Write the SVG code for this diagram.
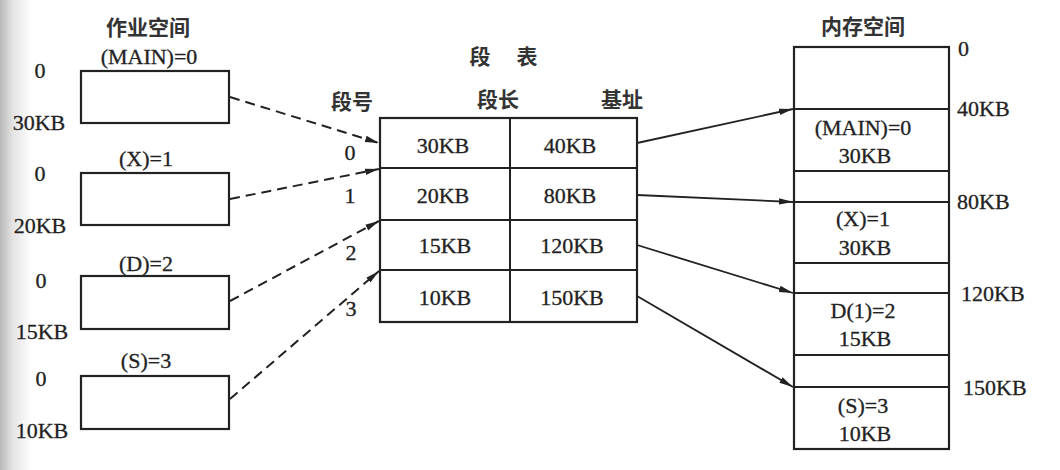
<svg xmlns="http://www.w3.org/2000/svg" width="1060" height="470" viewBox="0 0 1060 470">
<defs>
<linearGradient id="edge" x1="0" y1="0" x2="1" y2="0">
<stop offset="0" stop-color="#b8b8b8"/>
<stop offset="0.4" stop-color="#e4e4e4"/>
<stop offset="1" stop-color="#ffffff"/>
</linearGradient>
<marker id="ah" viewBox="0 0 14 8" refX="14" refY="4" markerWidth="14" markerHeight="8" markerUnits="userSpaceOnUse" orient="auto">
<path d="M0,0.8 L14,4 L0,7.2 Z" fill="#222"/>
</marker>
<style>
text{font-family:"Liberation Serif","Times New Roman","Noto Sans CJK SC",serif;font-size:22px;fill:#222;stroke:#222;stroke-width:0.3;}
.cjk{font-family:"Noto Sans CJK SC","Noto Sans CJK TC",sans-serif;font-size:21px;font-weight:bold;fill:#333;stroke:none;}
.c{text-anchor:middle;}
.box{fill:#fff;stroke:#222;stroke-width:2.2;}
.ln{stroke:#222;stroke-width:2;fill:none;}
.dash{stroke:#222;stroke-width:2;fill:none;stroke-dasharray:10 6;marker-end:url(#ah);}
.sol{stroke:#222;stroke-width:1.8;fill:none;marker-end:url(#ah);}
</style>
</defs>
<rect x="0" y="0" width="1060" height="470" fill="#fff"/>
<rect x="0" y="0" width="32" height="470" fill="url(#edge)"/>

<g id="titles">
<text class="cjk c" x="148" y="35">作业空间</text>
<text class="cjk c" x="480" y="64">段</text>
<text class="cjk c" x="527" y="64">表</text>
<text class="cjk c" x="352" y="109">段号</text>
<text class="cjk c" x="498" y="107">段长</text>
<text class="cjk c" x="622" y="107">基址</text>
<text class="cjk c" x="863" y="34">内存空间</text>
</g>

<g id="seg-main">
<text class="c" x="149" y="64">(MAIN)=0</text>
<rect class="box" x="81" y="71" width="148" height="52"/>
<text class="c" x="40" y="78">0</text>
<text class="c" x="39" y="130">30KB</text>
</g>
<g id="seg-x">
<text class="c" x="146" y="166">(X)=1</text>
<rect class="box" x="81" y="173" width="148" height="52"/>
<text class="c" x="40" y="181">0</text>
<text class="c" x="40" y="233">20KB</text>
</g>
<g id="seg-d">
<text class="c" x="146" y="271">(D)=2</text>
<rect class="box" x="81" y="276" width="148" height="53"/>
<text class="c" x="41" y="288">0</text>
<text class="c" x="42" y="339">15KB</text>
</g>
<g id="seg-s">
<text class="c" x="146" y="368">(S)=3</text>
<rect class="box" x="81" y="376" width="148" height="53"/>
<text class="c" x="41" y="386">0</text>
<text class="c" x="42" y="438">10KB</text>
</g>

<g id="segment-table">
<rect class="box" x="380" y="118" width="257" height="204"/>
<line class="ln" x1="380" y1="168" x2="637" y2="168"/>
<line class="ln" x1="380" y1="220" x2="637" y2="220"/>
<line class="ln" x1="380" y1="270" x2="637" y2="270"/>
<line class="ln" x1="510" y1="118" x2="510" y2="322"/>
<text class="c" x="443" y="153">30KB</text>
<text class="c" x="570" y="153">40KB</text>
<text class="c" x="443" y="203">20KB</text>
<text class="c" x="570" y="203">80KB</text>
<text class="c" x="445" y="253">15KB</text>
<text class="c" x="572" y="253">120KB</text>
<text class="c" x="445" y="305">10KB</text>
<text class="c" x="572" y="305">150KB</text>
<text class="c" x="350" y="160">0</text>
<text class="c" x="350" y="203">1</text>
<text class="c" x="351" y="260">2</text>
<text class="c" x="351" y="316">3</text>
</g>

<g id="memory">
<rect class="box" x="794" y="47" width="155" height="402"/>
<line class="ln" x1="794" y1="109" x2="949" y2="109"/>
<line class="ln" x1="794" y1="171" x2="949" y2="171"/>
<line class="ln" x1="794" y1="202" x2="949" y2="202"/>
<line class="ln" x1="794" y1="263" x2="949" y2="263"/>
<line class="ln" x1="794" y1="293" x2="949" y2="293"/>
<line class="ln" x1="794" y1="355" x2="949" y2="355"/>
<line class="ln" x1="794" y1="387" x2="949" y2="387"/>
<text class="c" x="863" y="135">(MAIN)=0</text>
<text class="c" x="865" y="163">30KB</text>
<text class="c" x="863" y="226">(X)=1</text>
<text class="c" x="865" y="255">30KB</text>
<text class="c" x="863" y="318">D(1)=2</text>
<text class="c" x="865" y="346">15KB</text>
<text class="c" x="863" y="413">(S)=3</text>
<text class="c" x="865" y="441">10KB</text>
<text x="958" y="56">0</text>
<text x="957" y="116">40KB</text>
<text x="957" y="209">80KB</text>
<text x="961" y="301">120KB</text>
<text x="963" y="395">150KB</text>
</g>

<g id="connectors">
<line class="dash" x1="230" y1="97" x2="379" y2="143"/>
<line class="dash" x1="230" y1="199" x2="379" y2="169"/>
<line class="dash" x1="230" y1="301" x2="379" y2="221"/>
<line class="dash" x1="230" y1="399" x2="379" y2="271"/>
<line class="sol" x1="637" y1="143" x2="793" y2="109"/>
<line class="sol" x1="637" y1="195" x2="793" y2="202"/>
<line class="sol" x1="637" y1="245" x2="793" y2="293"/>
<line class="sol" x1="637" y1="296" x2="793" y2="387"/>
</g>
</svg>
